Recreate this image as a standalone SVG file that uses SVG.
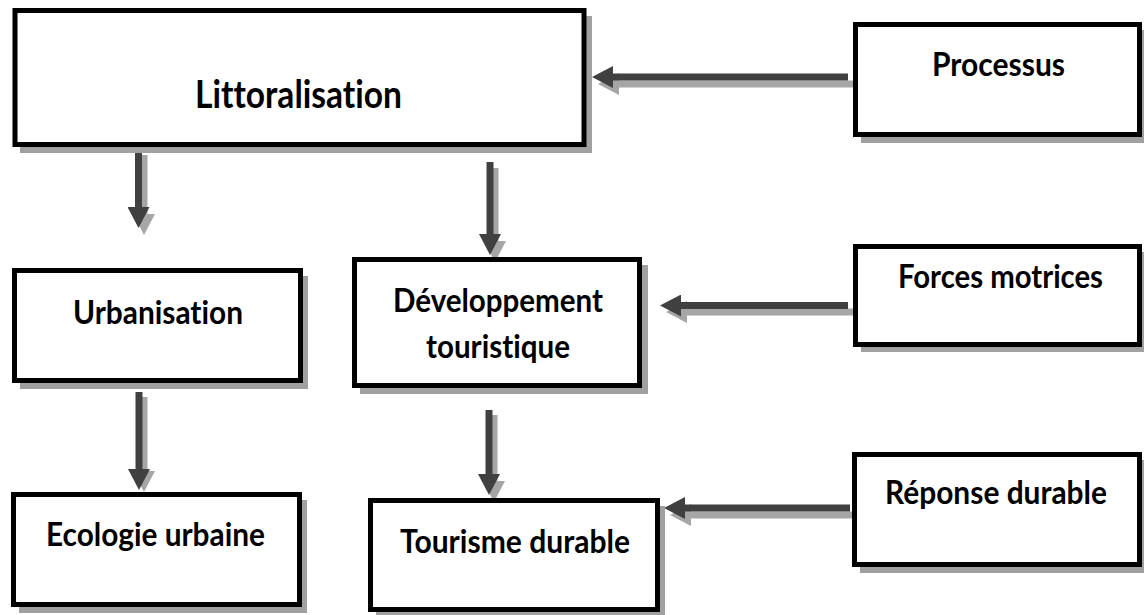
<svg xmlns="http://www.w3.org/2000/svg" width="1144" height="615" viewBox="0 0 1144 615">
<style>
.box{fill:#fff;stroke:#000;stroke-width:5}
.sh{fill:#a0a0a0}
.lbl{font-family:Lato,"Open Sans","Liberation Sans",sans-serif;font-weight:700;fill:#000;font-size:32px;font-variant-ligatures:none;font-feature-settings:"liga" 0,"clig" 0}
.big{font-size:39px}
.a{stroke:#404040;stroke-width:7;fill:none;marker-end:url(#hd)}
.as{stroke:#a6a6a6;stroke-width:7;fill:none;marker-end:url(#hs)}
</style>
<defs>
<marker id="hd" markerUnits="userSpaceOnUse" viewBox="0 0 21 22" refX="0" refY="11" markerWidth="21" markerHeight="22" orient="auto"><path d="M0,0 L21,11 L0,22 Z" fill="#404040"/></marker>
<marker id="hs" markerUnits="userSpaceOnUse" viewBox="0 0 21 22" refX="0" refY="11" markerWidth="21" markerHeight="22" orient="auto"><path d="M0,0 L21,11 L0,22 Z" fill="#a6a6a6"/></marker>
</defs>
<g id="connectors">
<line class="as" x1="854" y1="84" x2="619" y2="84"/>
<line class="a" x1="848" y1="77" x2="613" y2="77"/>
<line class="as" x1="854" y1="312" x2="687" y2="312"/>
<line class="a" x1="848" y1="305.5" x2="681" y2="305.5"/>
<line class="as" x1="855" y1="515" x2="691" y2="515"/>
<line class="a" x1="850" y1="508" x2="685" y2="508"/>
<line class="as" x1="144" y1="155" x2="144" y2="214"/>
<line class="a" x1="138.5" y1="150" x2="138.5" y2="207"/>
<line class="as" x1="495" y1="168" x2="495" y2="241"/>
<line class="a" x1="490" y1="162" x2="490" y2="234"/>
<line class="as" x1="144" y1="397" x2="144" y2="471"/>
<line class="a" x1="139" y1="392" x2="139" y2="469"/>
<line class="as" x1="494" y1="415" x2="494" y2="481"/>
<line class="a" x1="489" y1="410" x2="489" y2="474"/>
</g>
<g id="littoralisation">
<rect class="sh" x="20" y="16" width="572" height="137"/>
<rect class="box" x="15" y="10.5" width="569" height="134"/>
<text class="lbl big" x="195" y="108" textLength="207" lengthAdjust="spacingAndGlyphs">Littoralisation</text>
</g>
<g id="processus">
<rect class="sh" x="861" y="30" width="290" height="113"/>
<rect class="box" x="855.5" y="24.5" width="284" height="110"/>
<text class="lbl" x="932" y="76" textLength="133" lengthAdjust="spacingAndGlyphs">Processus</text>
</g>
<g id="urbanisation">
<rect class="sh" x="20" y="276" width="288" height="113"/>
<rect class="box" x="14.5" y="270.5" width="286" height="110"/>
<text class="lbl" x="73" y="324" textLength="170" lengthAdjust="spacingAndGlyphs">Urbanisation</text>
</g>
<g id="developpement">
<rect class="sh" x="360" y="265" width="288" height="129"/>
<rect class="box" x="354.5" y="259.5" width="285" height="126"/>
<text class="lbl" x="393" y="312" textLength="210" lengthAdjust="spacingAndGlyphs">Développement</text>
<text class="lbl" x="426" y="358" textLength="144" lengthAdjust="spacingAndGlyphs">touristique</text>
</g>
<g id="forces">
<rect class="sh" x="861" y="252" width="290" height="100"/>
<rect class="box" x="855.5" y="246.5" width="284" height="98"/>
<text class="lbl" x="898" y="288" textLength="205" lengthAdjust="spacingAndGlyphs">Forces motrices</text>
</g>
<g id="ecologie">
<rect class="sh" x="19" y="500" width="288" height="113"/>
<rect class="box" x="13.5" y="494.5" width="286" height="110"/>
<text class="lbl" x="46" y="546" textLength="219" lengthAdjust="spacingAndGlyphs">Ecologie urbaine</text>
</g>
<g id="tourisme">
<rect class="sh" x="376" y="506" width="289" height="112"/>
<rect class="box" x="370.5" y="500.5" width="287" height="109"/>
<text class="lbl" x="400" y="553" textLength="230" lengthAdjust="spacingAndGlyphs">Tourisme durable</text>
</g>
<g id="reponse">
<rect class="sh" x="860" y="460" width="290" height="113"/>
<rect class="box" x="854.5" y="454.5" width="285" height="110"/>
<text class="lbl" x="885" y="504" textLength="222" lengthAdjust="spacingAndGlyphs">Réponse durable</text>
</g>
</svg>
